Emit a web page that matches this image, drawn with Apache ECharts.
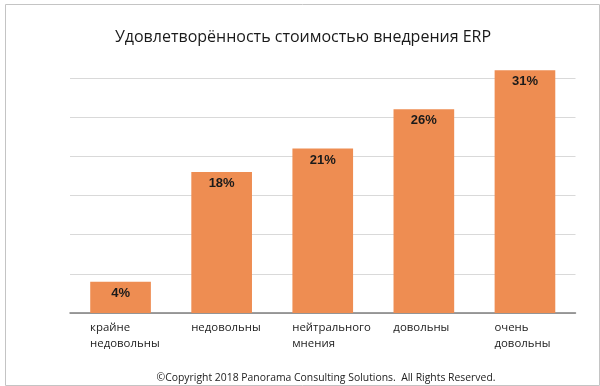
<!DOCTYPE html>
<html><head><meta charset="utf-8">
<script src="https://cdn.jsdelivr.net/npm/echarts@6/dist/echarts.min.js"></script>
<style>html,body{margin:0;padding:0;background:#fff}#c{width:600px;height:386px}</style>
</head><body><div id="c"></div>
<script>
var categories = ['крайне\nнедовольны', 'недовольны', 'нейтрального\nмнения', 'довольны', 'очень\nдовольны'];
var values = [4, 18, 21, 26, 31];
var yTicks = [0, 5, 10, 15, 20, 25, 30];
var titleText = 'Удовлетворённость стоимостью внедрения ERP';
var footerText = '©Copyright 2018 Panorama Consulting Solutions.  All Rights Reserved.';

var chart = echarts.init(document.getElementById('c'), null, {renderer: 'canvas'});
chart.setOption({
  animation: false,
  backgroundColor: '#fff',
  title: [{
    text: titleText, left: 298, top: 24, textAlign: 'center',
    textStyle: {fontFamily: 'Open Sans', fontSize: 16, fontWeight: 'normal', color: '#1a1a1a'}
  }, {
    text: footerText, left: 321, top: 368, textAlign: 'center',
    textStyle: {fontFamily: 'Open Sans', fontSize: 10.4, fontWeight: 'normal', color: '#222'}
  }],
  graphic: [{
    type: 'rect', left: 3, top: 2, shape: {width: 594, height: 381},
    style: {fill: 'none', stroke: '#c4c4c4', lineWidth: 1}
  }],
  grid: {left: 70, right: 24.5, top: 78, bottom: 73},
  xAxis: {
    type: 'category', data: categories,
    axisLine: {lineStyle: {color: '#7f7f7f', width: 1.5}},
    axisTick: {show: false},
    axisLabel: {
      interval: 0, hideOverlap: false,
      margin: 7, align: 'center', width: 61, overflow: 'none',
      formatter: function (v) { return v.split('\n').map(function (s) { return '{a|' + s + '}'; }).join('\n'); },
      rich: {a: {align: 'left', fontFamily: 'Open Sans', fontSize: 11.4, color: '#222', lineHeight: 16}}
    }
  },
  yAxis: {
    type: 'value', min: yTicks[0], max: yTicks[yTicks.length - 1], interval: 5,
    axisLine: {show: false}, axisTick: {show: false}, axisLabel: {show: false},
    splitLine: {lineStyle: {color: '#d9d9d9', width: 1}}
  },
  series: [{
    type: 'bar', data: values, barWidth: '60%', clip: false,
    itemStyle: {color: '#EE8D52'},
    label: {
      show: true, position: 'insideTop', distance: 5,
      formatter: '{c}%', fontFamily: 'Liberation Sans', fontWeight: 'bold', fontSize: 13, color: '#1a1a1a'
    }
  }]
});
</script></body></html>
